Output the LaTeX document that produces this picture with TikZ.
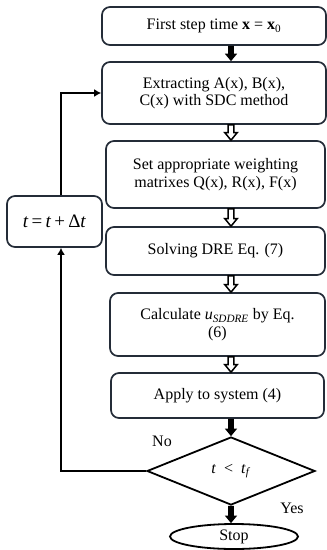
\documentclass[tikz,border=0pt]{standalone}
\usepackage{fontspec}
\setmainfont{Liberation Serif}
\usetikzlibrary{shapes.geometric,calc,arrows.meta}

\definecolor{edge}{RGB}{36,44,56}

% block arrow between two boxes, on the vertical line through (ax)
\newcommand\blockarrow[3]{%
  \path[#1] let \p1=(ax |- #2.south), \p2=(ax |- #3.north) in
    (\x1-2.8pt,\y1) -- (\x1+2.8pt,\y1) -- (\x1+2.8pt,\y2+7.5pt) --
    (\x1+6.2pt,\y2+7.5pt) -- (\x1,\y2) -- (\x1-6.2pt,\y2+7.5pt) --
    (\x1-2.8pt,\y2+7.5pt) -- cycle;}

\tikzset{
  stepbox/.style={draw=edge, line width=1.7pt, rounded corners=8pt,
    align=center, inner sep=2pt, font=\fontsize{16}{17.5}\selectfont},
  solidarrow/.style={fill=black},
  hollowarrow/.style={draw=black, fill=white, line width=1.5pt, line join=miter},
  loopline/.style={draw=black, line width=2.2pt, -{Latex[length=7pt,width=8pt]}},
  plain/.style={font=\fontsize{16}{17.5}\selectfont},
}

\begin{document}
\begin{tikzpicture}[x=1pt,y=-1pt]
\useasboundingbox (0,0) rectangle (327,550);

\coordinate (ax) at (231,0);
\coordinate (lx) at (61,0);

\node[stepbox, minimum width=224pt, minimum height=38pt] (b1) at (214,26)
  {First step time \textbf{x} = \textbf{x}\textsubscript{0}};
\node[stepbox, minimum width=224pt, minimum height=62pt] (b2) at (214,93)
  {Extracting A(x), B(x),\\C(x) with SDC method};
\node[stepbox, minimum width=219pt, minimum height=67pt] (b3) at (215.5,174.5)
  {Set appropriate weighting\\matrixes Q(x), R(x), F(x)};
\node[stepbox, minimum width=219pt, minimum height=48pt] (b4) at (215.5,251)
  {Solving DRE Eq. (7)};
\node[stepbox, minimum width=215pt, minimum height=63pt] (b5) at (217.5,324.5)
  {Calculate \textit{u}\textsubscript{\textit{SDDRE}} by Eq.\\(6)};
\node[stepbox, minimum width=213pt, minimum height=45pt] (b6) at (217.5,395.5)
  {Apply to system (4)};
\node[stepbox, minimum width=95pt, minimum height=51pt, font=\fontsize{19}{21}\selectfont] (bt) at (54.5,221.5)
  {\textit{t}\,=\,\textit{t}\,+\,Δ\textit{t}};

\node[diamond, draw=black, line width=1.8pt, minimum width=168pt, minimum height=68pt,
  inner sep=0pt, plain] (dec) at (231,471) {\textit{t}\enspace<\enspace\textit{t}\textsubscript{\textit{f}}};
\node[ellipse, draw=black, line width=1.8pt, minimum width=128pt, minimum height=25pt,
  inner sep=0pt, plain] (stop) at (234,536.5) {Stop};

\node[plain] (no) at (162,441) {No};
\node[plain] (yes) at (292,508) {Yes};

% flow between the steps
\blockarrow{solidarrow}{b1}{b2}
\blockarrow{hollowarrow}{b2}{b3}
\blockarrow{hollowarrow}{b3}{b4}
\blockarrow{hollowarrow}{b4}{b5}
\blockarrow{hollowarrow}{b5}{b6}
\blockarrow{solidarrow}{b6}{dec}
\blockarrow{solidarrow}{dec}{stop}

% time update loop
\draw[loopline] (dec.west) -| (lx |- bt.south);
\draw[loopline] (lx |- bt.north) |- (b2.west);
\end{tikzpicture}
\end{document}
